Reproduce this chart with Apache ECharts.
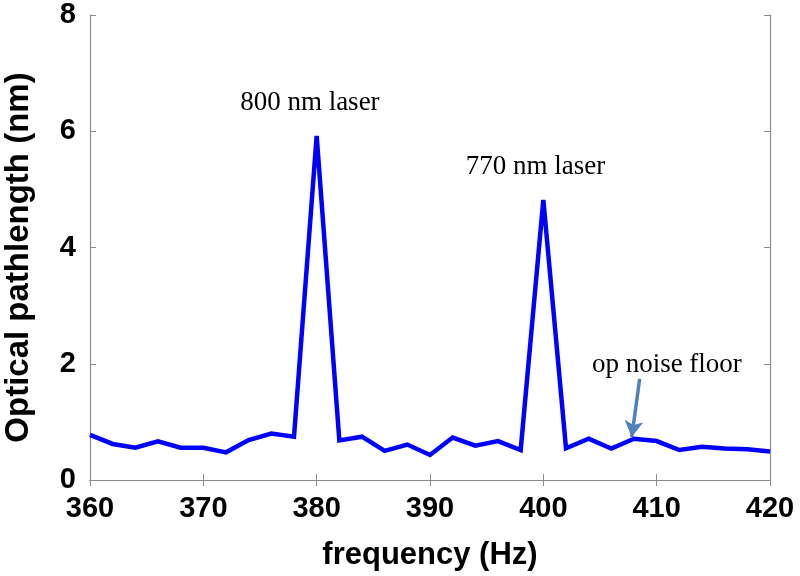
<!DOCTYPE html>
<html>
<head>
<meta charset="utf-8">
<script src="https://cdn.jsdelivr.net/npm/echarts@6/dist/echarts.min.js"></script>
<style>html,body{margin:0;padding:0;background:#fff;}#c{width:800px;height:576px;}</style>
</head>
<body>
<div id="c"></div>
<script>
const frequency = [360,362,364,366,368,370,372,374,376,378,380,382,384,386,388,390,392,394,396,398,400,402,404,406,408,410,412,414,416,418,420];
const pathlength = [0.775,0.62,0.556,0.665,0.556,0.556,0.476,0.688,0.80,0.745,5.92,0.68,0.745,0.50,0.61,0.43,0.73,0.59,0.67,0.516,4.82,0.545,0.71,0.54,0.71,0.67,0.516,0.57,0.54,0.53,0.49];
const xTicks = [360,370,380,390,400,410,420];
const yTicks = [0,2,4,6,8];
const annotations = [
  {text:'800 nm laser', x:379.4, y:6.49},
  {text:'770 nm laser', x:399.3, y:5.39},
  {text:'op noise floor', x:410.9, y:1.98}
];
const arrowFrom = [408.5, 1.74];
const arrowTo = [407.8, 0.74];

const chart = echarts.init(document.getElementById('c'));
const axisLine = {show:true, lineStyle:{color:'#8c8c8c', width:1.2}};
const tickFont = {fontFamily:'Liberation Sans, Arial, sans-serif', fontWeight:'bold', fontSize:29, color:'#000'};
chart.setOption({
  animation:false,
  grid:{left:90, right:30, top:15, bottom:96, containLabel:false, outerBoundsMode:'none'},
  xAxis:[{
    type:'value', min:360, max:420, interval:10,
    axisLine:axisLine,
    axisTick:{show:true, inside:true, length:6, lineStyle:{color:'#8c8c8c'}},
    splitLine:{show:false},
    axisLabel:Object.assign({margin:14, formatter:v=>xTicks.includes(v)?String(v):''}, tickFont),
    name:'frequency (Hz)', nameLocation:'middle', nameGap:60,
    nameTextStyle:{fontFamily:'Liberation Sans, Arial, sans-serif', fontWeight:'bold', fontSize:31, color:'#000'}
  },{
    type:'value', min:360, max:420, interval:10, position:'top',
    axisLine:axisLine,
    axisTick:{show:true, inside:true, length:6, lineStyle:{color:'#8c8c8c'}},
    axisLabel:{show:false}, splitLine:{show:false}
  }],
  yAxis:[{
    type:'value', min:0, max:8, interval:2,
    axisLine:axisLine,
    axisTick:{show:true, inside:true, length:6, lineStyle:{color:'#8c8c8c'}},
    splitLine:{show:false},
    axisLabel:Object.assign({margin:14, formatter:v=>yTicks.includes(v)?String(v):''}, tickFont),
    name:'Optical pathlength (nm)', nameLocation:'middle', nameGap:55,
    nameTextStyle:{fontFamily:'Liberation Sans, Arial, sans-serif', fontWeight:'bold', fontSize:33, color:'#000', padding:[0,20,0,0]}
  },{
    type:'value', min:0, max:8, interval:2, position:'right',
    axisLine:axisLine,
    axisTick:{show:true, inside:true, length:6, lineStyle:{color:'#8c8c8c'}},
    axisLabel:{show:false}, splitLine:{show:false}
  }],
  series:[{
    type:'line',
    data:frequency.map((f,i)=>[f,pathlength[i]]),
    showSymbol:false,
    lineStyle:{color:'#0000ff', width:4.5, join:'miter', miterLimit:4},
    markPoint:{
      symbol:'circle', symbolSize:0, silent:true,
      label:{show:true, position:'inside', fontFamily:'Liberation Serif, Times New Roman, serif', fontSize:27, color:'#000'},
      data:annotations.map(a=>({coord:[a.x,a.y], label:{formatter:a.text}}))
    },
    markLine:{
      silent:true, symbol:['none','arrow'], symbolSize:[14,16],
      lineStyle:{color:'#4f81bd', width:3.5, type:'solid'},
      label:{show:false},
      data:[[{coord:arrowFrom},{coord:arrowTo}]]
    }
  }]
});
</script>
</body>
</html>
